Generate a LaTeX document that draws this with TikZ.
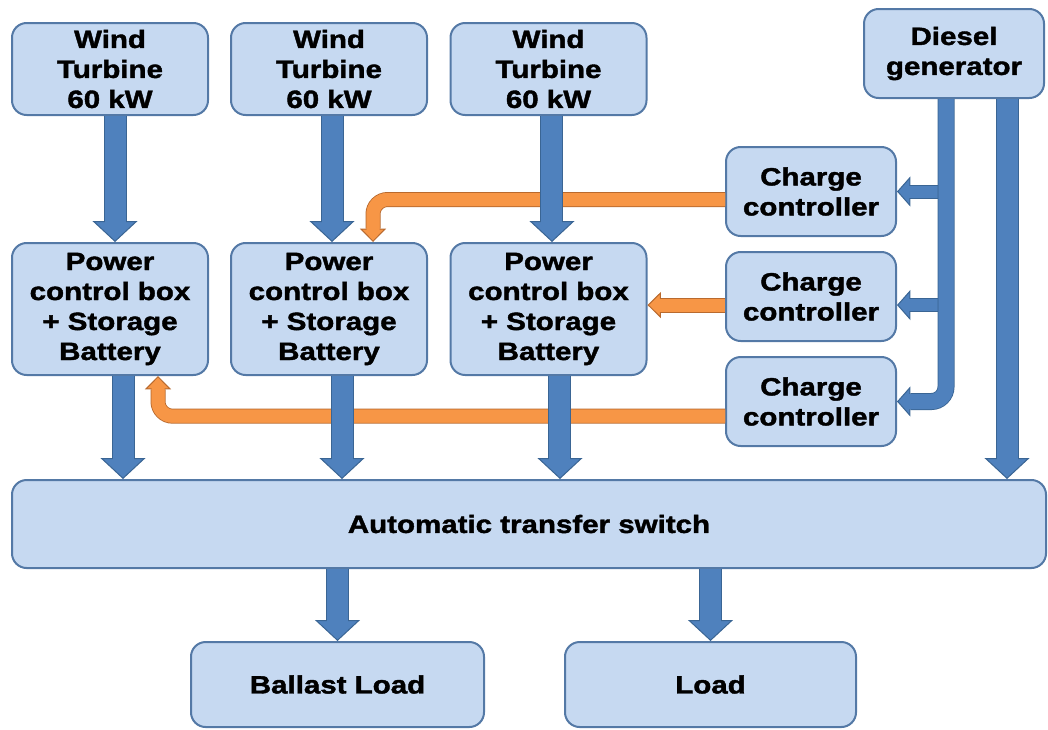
\documentclass[tikz,border=0pt]{standalone}
\usepackage{fontspec}
\setmainfont{Liberation Sans}[FakeStretch=1.18, BoldFeatures={FakeBold=1.6}]
\usetikzlibrary{arrows.meta}
\definecolor{boxfill}{HTML}{C6D9F1}
\definecolor{boxedge}{HTML}{5479A6}
\definecolor{flowblue}{HTML}{4F81BD}
\definecolor{flowblueedge}{HTML}{3A6594}
\definecolor{floworange}{HTML}{F79646}
\definecolor{floworangeedge}{HTML}{B96A2E}

\begin{document}
\begin{tikzpicture}[
  x=0.75pt, y=-0.75pt,
  box/.style={draw=boxedge, fill=boxfill, line width=1.5pt, rounded corners=11pt,
    align=center, inner sep=0pt, font=\fontsize{18.75}{22.5}\selectfont\bfseries},
  blk/.style n args={5}{% fill, edge, shaft, head width, head length
    preaction={draw=#2, line width=#3+1.5pt, -, shorten >=#5},
    draw=#1, line width=#3,
    -{Triangle[width=#4, length=#5, line width=0.75pt 0 0, color=#2, fill=#1]},
    postaction={draw=#1, line width=#3, -, shorten >=#5-2.5pt}},
  main/.style={blk={flowblue}{flowblueedge}{15.75pt}{33.75pt}{15.75pt}},
  bus/.style={blk={flowblue}{flowblueedge}{11.25pt}{22.5pt}{10pt}, rounded corners=11pt},
  tap/.style={blk={flowblue}{flowblueedge}{9pt}{22.5pt}{10pt}},
  charge/.style={blk={floworange}{floworangeedge}{9.75pt}{19.5pt}{10pt}, rounded corners=11pt}
]
\useasboundingbox (0,0) rectangle (1048,729);

% sources
\node[box, minimum width=147pt, minimum height=69pt] (W1) at (110,69) {Wind\\Turbine\\60 kW};
\node[box, minimum width=147pt, minimum height=69pt] (W2) at (329,69) {Wind\\Turbine\\60 kW};
\node[box, minimum width=147pt, minimum height=69pt] (W3) at (548.5,69) {Wind\\Turbine\\60 kW};
\node[box, minimum width=135pt, minimum height=66.75pt] (DG) at (954,53.5) {Diesel\\generator};

% storage
\node[box, minimum width=147pt, minimum height=99pt] (P1) at (110,309) {Power\\control box\\+ Storage\\Battery};
\node[box, minimum width=147pt, minimum height=99pt] (P2) at (329,309) {Power\\control box\\+ Storage\\Battery};
\node[box, minimum width=147pt, minimum height=99pt] (P3) at (548.5,309) {Power\\control box\\+ Storage\\Battery};

% charge controllers
\node[box, minimum width=127.5pt, minimum height=66.75pt] (C1) at (811,191.5) {Charge\\controller};
\node[box, minimum width=127.5pt, minimum height=66.75pt] (C2) at (811,296.5) {Charge\\controller};
\node[box, minimum width=127.5pt, minimum height=66.75pt] (C3) at (811,401.5) {Charge\\controller};

% switch and loads
\node[box, minimum width=775.5pt, minimum height=66pt] (ATS) at (529,524) {Automatic transfer switch};
\node[box, minimum width=219.75pt, minimum height=63.75pt] (BL) at (337.5,684.5) {Ballast Load};
\node[box, minimum width=218.25pt, minimum height=63.75pt] (LD) at (710.5,684.5) {Load};

% charging lines
\coordinate (c1out) at ([yshift=-6pt]C1.west);
\coordinate (c2out) at ([yshift=-6.4pt]C2.west);
\coordinate (c3out) at ([yshift=-11pt]C3.west);
\draw[charge] (c1out) -| ([xshift=33pt]P2.north);
\draw[charge] (c2out) -- (c2out -| P3.east);
\draw[charge] (c3out) -| ([xshift=36pt]P1.south);

% power flow
\draw[main] ([xshift=3.75pt]W1.south) -- ([xshift=3.75pt]P1.north);
\draw[main] ([xshift=2.25pt]W2.south) -- ([xshift=2.25pt]P2.north);
\draw[main] ([xshift=2.6pt]W3.south) -- ([xshift=2.6pt]P3.north);

\coordinate (p1o) at ([xshift=9.75pt]P1.south);
\coordinate (p2o) at ([xshift=9.75pt]P2.south);
\coordinate (p3o) at ([xshift=8.6pt]P3.south);
\coordinate (dgo) at ([xshift=39.75pt]DG.south);
\draw[main] (p1o) -- (p1o |- ATS.north);
\draw[main] (p2o) -- (p2o |- ATS.north);
\draw[main] (p3o) -- (p3o |- ATS.north);
\draw[main] (dgo) -- (dgo |- ATS.north);

% diesel to chargers
\coordinate (bus) at ([xshift=-6pt]DG.south);
\coordinate (c2in) at ([yshift=-6.4pt]C2.east);
\draw[tap] (bus |- C1.east) -- (C1.east);
\draw[tap] (bus |- c2in) -- (c2in);
\draw[bus] (bus) |- (C3.east);

% outputs
\draw[main] (ATS.south -| BL.north) -- (BL.north);
\draw[main] (ATS.south -| LD.north) -- (LD.north);
\end{tikzpicture}
\end{document}
